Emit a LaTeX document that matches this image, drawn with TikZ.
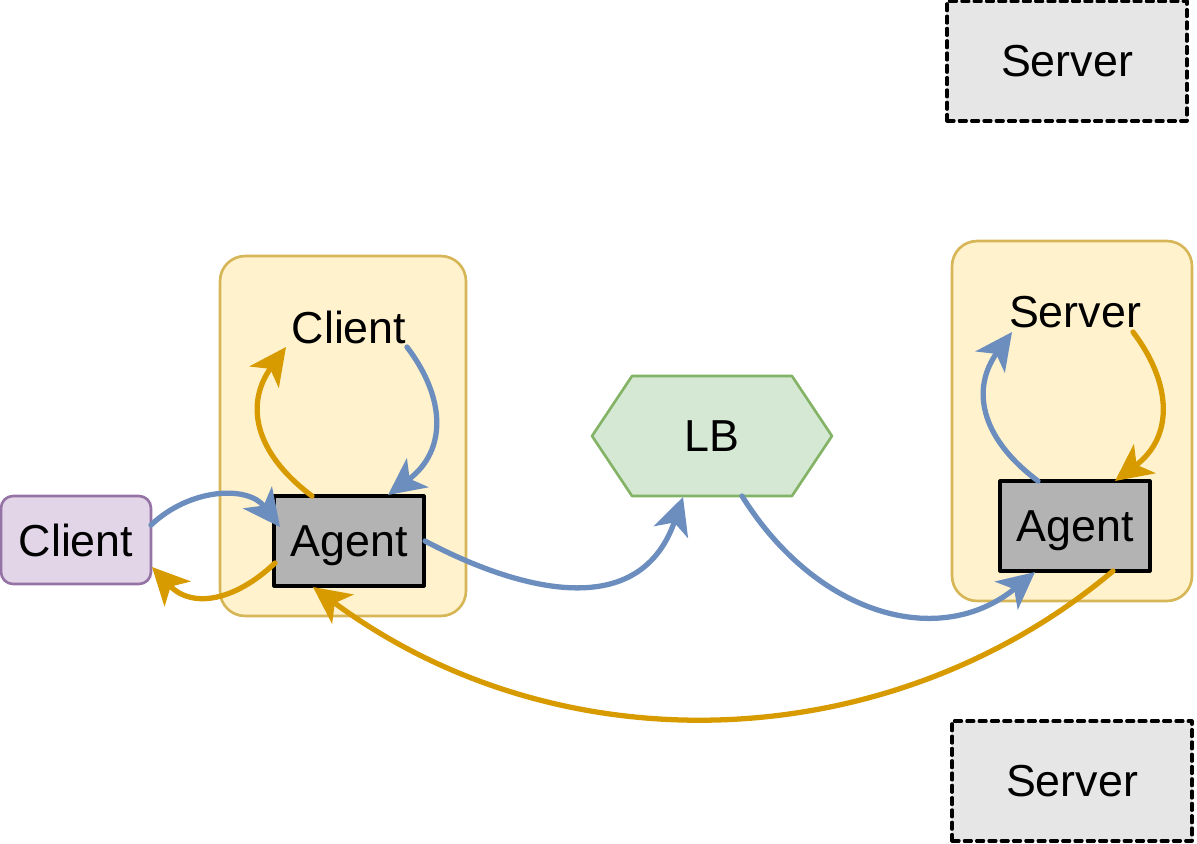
\documentclass[tikz,border=0pt]{standalone}
\usepackage{fontspec}
\setmainfont{Liberation Sans}
\usetikzlibrary{arrows.meta,calc,shapes.symbols}
\definecolor{boxfill}{HTML}{FFF2CC}
\definecolor{boxline}{HTML}{D6B656}
\definecolor{clientfill}{HTML}{E1D5E7}
\definecolor{clientline}{HTML}{9673A6}
\definecolor{lbfill}{HTML}{D5E8D4}
\definecolor{lbline}{HTML}{82B366}
\definecolor{agentfill}{HTML}{B3B3B3}
\definecolor{serverfill}{HTML}{E6E6E6}
\definecolor{reqblue}{HTML}{6C8EBF}
\definecolor{resorange}{HTML}{D79B00}
\tikzset
{
	my container/.style={draw=boxline,fill=boxfill,line width=1.5pt,rounded corners=0.5cm,minimum width=4.8cm,minimum height=7.2cm},
	my client/.style={draw=clientline,fill=clientfill,line width=1.5pt,rounded corners=0.24cm,minimum width=3cm,minimum height=1.76cm},
	my agent/.style={draw,fill=agentfill,line width=1.8pt,minimum width=3cm,minimum height=1.8cm,text depth=0pt},
	my server/.style={draw,dash pattern=on 4pt off 3pt,fill=serverfill,line width=1.8pt,minimum width=4.8cm,minimum height=2.4cm},
	my lb/.style={shape=signal,signal to=west and east,signal pointer angle=112.6,draw=lbline,fill=lbfill,line width=1.5pt,minimum width=4.8cm,minimum height=2.4cm},
	my request/.style={draw=reqblue,line width=3pt,-{Stealth[length=0.74cm,width=0.72cm,inset=0.2cm]}},
	my reply/.style={draw=resorange,line width=3pt,-{Stealth[length=0.74cm,width=0.72cm,inset=0.2cm]}}
}

\begin{document}
\begin{tikzpicture}[x=0.02cm,y=-0.02cm,font=\fontsize{25.5}{30}\selectfont,line cap=round,line join=round]
		\useasboundingbox (0,0) rectangle (1197,843);
		% containers
		\node[my container,minimum width=4.92cm] (boxL) at (343,436) {};
		\node[my container] (boxR) at (1072,421) {};
		% spare servers
		\foreach\name/\y/\x in {serverA/61/1067,serverB/781/1072}
		\node[my server] (\name) at (\x,\y) {Server};
		% nodes
		\node[my client] (clientL) at (76,540) {Client};
		\node (clientT) at (349,327) {Client};
		\node[my agent] (agentL) at (349,541) {Agent};
		\node[my lb] (lb) at (712,436) {LB};
		\node (serverT) at (1075,312) {Server};
		\node[my agent] (agentR) at (1075,526) {Agent};
		% request path
		\draw[my request] ($(clientL)+(75,-15)$) .. controls +(39,-37) and +(-32,-42) .. ($(agentL)+(-69,-14)$);
		\draw[my request] ($(clientT)+(58,20)$) .. controls +(38,50) and +(60,-45) .. ($(agentL)+(39,-46)$);
		\draw[my request] ($(agentL)+(76,0)$) .. controls +(85,45) and +(-45,130) .. ($(lb)+(-29,61)$);
		\draw[my request] ($(lb)+(30,60)$) .. controls +(75,120) and +(-95,78) .. ($(agentR)+(-40,46)$);
		\draw[my request] ($(agentR)+(-37,-45)$) .. controls +(-60,-45) and +(-40,55) .. ($(serverT)+(-63,20)$);
		% reply path
		\draw[my reply] ($(serverT)+(58,20)$) .. controls +(38,50) and +(60,-45) .. ($(agentR)+(40,-45)$);
		\draw[my reply] ($(agentR)+(38,45)$) .. controls +(-220,185) and +(250,185) .. ($(agentL)+(-36,46)$);
		\draw[my reply] ($(agentL)+(-37,-45)$) .. controls +(-60,-45) and +(-40,55) .. ($(clientT)+(-63,20)$);
		\draw[my reply] ($(agentL)+(-74,22)$) .. controls +(-40,38) and +(40,42) .. ($(clientL)+(76,27)$);
	\end{tikzpicture}
\end{document}
